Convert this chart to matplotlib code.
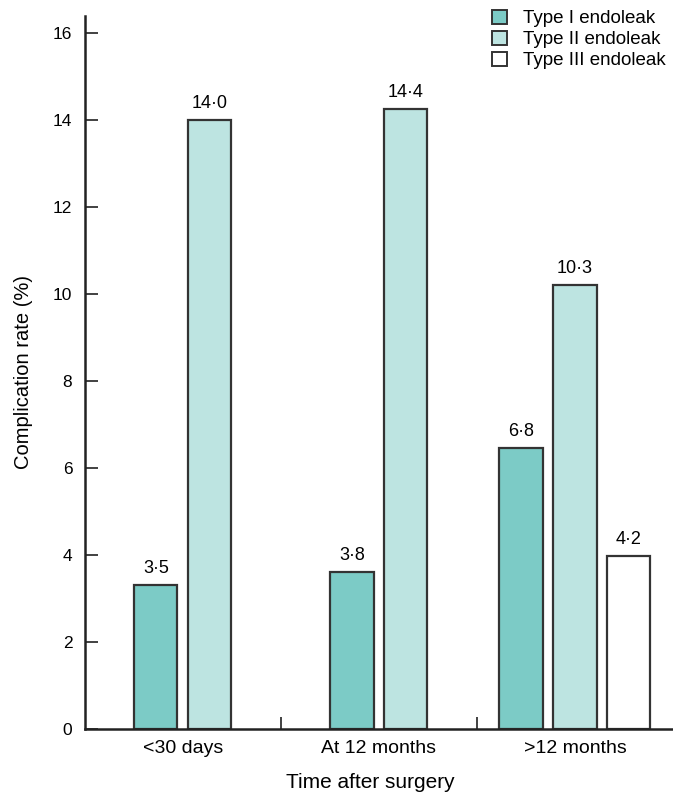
import numpy as np
import matplotlib
matplotlib.use("Agg")
import matplotlib.pyplot as plt
from matplotlib.patches import Patch

plt.rcParams["font.family"] = ["Liberation Sans", "DejaVu Sans"]

categories = ["<30 days", "At 12 months", ">12 months"]
series = ["Type I endoleak", "Type II endoleak", "Type III endoleak"]
# bar heights as drawn in the figure, and the printed value labels
type1_heights = [3.3, 3.6, 6.45]
type2_heights = [14.0, 14.25, 10.2]
type3_heights = [None, None, 3.97]
type1_labels = ["3·5", "3·8", "6·8"]
type2_labels = ["14·0", "14·4", "10·3"]
type3_labels = [None, None, "4·2"]
y_ticks = [0, 2, 4, 6, 8, 10, 12, 14, 16]

colors = ["#7ccbc6", "#bde4e1", "#ffffff"]
edge = "#333333"


def main():
    fig = plt.figure(figsize=(6.73, 7.94), dpi=100)
    ax = fig.add_axes([0.126, 0.082, 0.874, 0.898])

    heights = [type1_heights, type2_heights, type3_heights]
    labels = [type1_labels, type2_labels, type3_labels]
    width = 0.22
    pitch = 0.275

    for i in range(len(categories)):
        present = [s for s in range(len(series)) if heights[s][i] is not None]
        n = len(present)
        for j, s in enumerate(present):
            x = i + 0.5 + (j - (n - 1) / 2) * pitch
            h = heights[s][i]
            ax.bar(x, h, width=width, color=colors[s], edgecolor=edge,
                   linewidth=1.6, zorder=2)
            ax.text(x, h + 0.2, labels[s][i], ha="center", va="bottom",
                    fontsize=13)

    ax.set_xlim(0, 3)
    ax.set_ylim(0, 16.4)
    ax.set_yticks(y_ticks)
    ax.set_xticks([0.5, 1.5, 2.5])
    ax.set_xticklabels(categories, fontsize=14)
    ax.set_xticks([1, 2], minor=True)
    ax.tick_params(axis="x", which="major", length=0, pad=8)
    ax.tick_params(axis="x", which="minor", direction="in", length=9,
                   width=1.3, color=edge)
    ax.tick_params(axis="y", direction="in", length=9, width=1.3,
                   color=edge, labelsize=12.5, pad=9)

    for side in ["top", "right"]:
        ax.spines[side].set_visible(False)
    for side in ["left", "bottom"]:
        ax.spines[side].set_linewidth(1.8)
        ax.spines[side].set_color("#222222")

    ax.set_ylabel("Complication rate (%)", fontsize=14.5, labelpad=14)
    ax.set_xlabel("Time after surgery", fontsize=15)
    ax.xaxis.set_label_coords(0.485, -0.062)

    handles = [Patch(facecolor=c, edgecolor=edge, linewidth=1.4) for c in colors]
    ax.legend(handles, series, loc="upper right", bbox_to_anchor=(1.01, 1.027),
              frameon=False, fontsize=13.5, handlelength=0.8, handleheight=0.8,
              handletextpad=0.85, labelspacing=0.17, borderaxespad=0.3)

    fig.savefig("out.png", dpi=100)
    plt.close(fig)


if __name__ == "__main__":
    main()
